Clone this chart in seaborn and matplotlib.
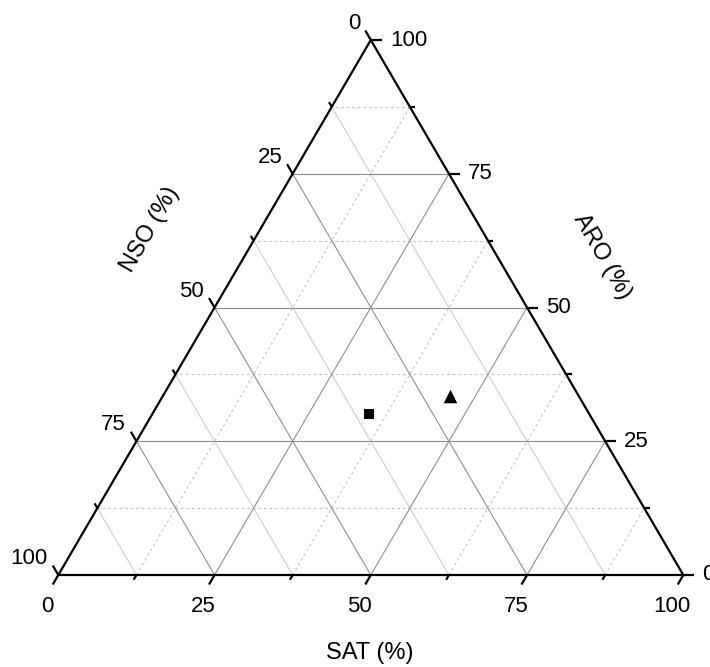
import numpy as np
import matplotlib
matplotlib.use('Agg')
import matplotlib.pyplot as plt
import seaborn as sns

# composicao das amostras (%)
sat = [34.7, 46.0]
aro = [30.1, 33.4]
nso = [35.2, 20.6]
sample = ['A', 'B']
markers = ['s', '^']
marker_area = [62, 95]

major_ticks = [0, 25, 50, 75, 100]
minor_ticks = [12.5, 37.5, 62.5, 87.5]

sns.set_style('white')
plt.rcParams['font.family'] = ['Liberation Sans', 'DejaVu Sans']
plt.rcParams['text.color'] = 'black'
FS = 16
FS_TITLE = 17

# tamanho do triangulo em pixels
W, H = 625.0, 535.0


def to_xy(s, a):
    # SAT no vertice direito, ARO no topo, NSO no vertice esquerdo
    return (s + a / 2) / 100, a / 100


def px(dx, dy):
    return dx / W, dy / H


fig = plt.figure(figsize=(7.1, 6.67), dpi=100)
ax = fig.add_axes([58.3 / 710, 92 / 667, W / 710, H / 667])
ax.set_xlim(0, 1)
ax.set_ylim(0, 1)
ax.axis('off')

# grade
for v in minor_ticks + major_ticks[1:-1]:
    major = v in major_ticks
    # ARO constante
    p1, p2 = to_xy(100 - v, v), to_xy(0, v)
    # SAT constante
    q1, q2 = to_xy(v, 0), to_xy(v, 100 - v)
    # NSO constante
    r1, r2 = to_xy(100 - v, 0), to_xy(0, 100 - v)
    if major:
        kw = dict(color='#8e8e8e', lw=0.8, ls='-')
        kw_nso = kw
    else:
        kw = dict(color='#c4c4c4', lw=0.8, ls=(0, (2.5, 2.5)))
        kw_nso = dict(color='#cdcdcd', lw=0.8, ls='-')
    ax.plot([p1[0], p2[0]], [p1[1], p2[1]], zorder=1, **kw)
    ax.plot([q1[0], q2[0]], [q1[1], q2[1]], zorder=1, **kw)
    ax.plot([r1[0], r2[0]], [r1[1], r2[1]], zorder=1, **kw_nso)

# bordas
verts = [to_xy(0, 0), to_xy(100, 0), to_xy(0, 100), to_xy(0, 0)]
ax.plot([p[0] for p in verts], [p[1] for p in verts], color='black', lw=1.6,
        solid_joinstyle='miter', clip_on=False, zorder=3)

# ticks
edge = np.hypot(W / 2, H)
ux, uy = (W / 2) / edge, H / edge
for v in major_ticks + minor_ticks:
    L = 11 if v in major_ticks else 5.5
    tk = dict(color='black', lw=1.6, clip_on=False, zorder=3, solid_capstyle='butt')
    # SAT (base)
    x0, y0 = to_xy(v, 0)
    dx, dy = px(-ux * L, -uy * L)
    ax.plot([x0, x0 + dx], [y0, y0 + dy], **tk)
    if v in major_ticks:
        ox, oy = px(-11, -32)
        ax.text(x0 + ox, y0 + oy, f'{v}', ha='center', va='center', fontsize=FS)
    # ARO (direita)
    x0, y0 = to_xy(100 - v, v)
    dx, dy = px(L, 0)
    ax.plot([x0, x0 + dx], [y0, y0 + dy], **tk)
    if v in major_ticks:
        ox, oy = px(19, 0)
        ax.text(x0 + ox, y0 + oy, f'{v}', ha='left', va='center', fontsize=FS)
    # NSO (esquerda)
    x0, y0 = to_xy(0, 100 - v)
    dx, dy = px(-ux * L, uy * L)
    ax.plot([x0, x0 + dx], [y0, y0 + dy], **tk)
    if v in major_ticks:
        ox, oy = px(-5, 7)
        ax.text(x0 + dx + ox, y0 + dy + oy, f'{v}', ha='right', va='center', fontsize=FS)

# titulos dos eixos
ax.text((370 - 58.3) / W, (575 - 653) / H, 'SAT (%)', ha='center', va='center', fontsize=FS_TITLE)
ax.text((150 - 58.3) / W, (575 - 229) / H, 'NSO (%)', ha='center', va='center',
        rotation=60, rotation_mode='anchor', fontsize=FS_TITLE)
ax.text((602 - 58.3) / W, (575 - 257) / H, 'ARO (%)', ha='center', va='center',
        rotation=-60, rotation_mode='anchor', fontsize=FS_TITLE)

# pontos
df = {'x': [], 'y': []}
for s, a in zip(sat, aro):
    x, y = to_xy(s, a)
    df['x'].append(x)
    df['y'].append(y)
for i in range(len(sample)):
    sns.scatterplot(x=[df['x'][i]], y=[df['y'][i]], marker=markers[i], s=marker_area[i],
                    color='black', edgecolor='black', linewidth=0, ax=ax, zorder=4, legend=False)

fig.savefig('out.png', dpi=100)
